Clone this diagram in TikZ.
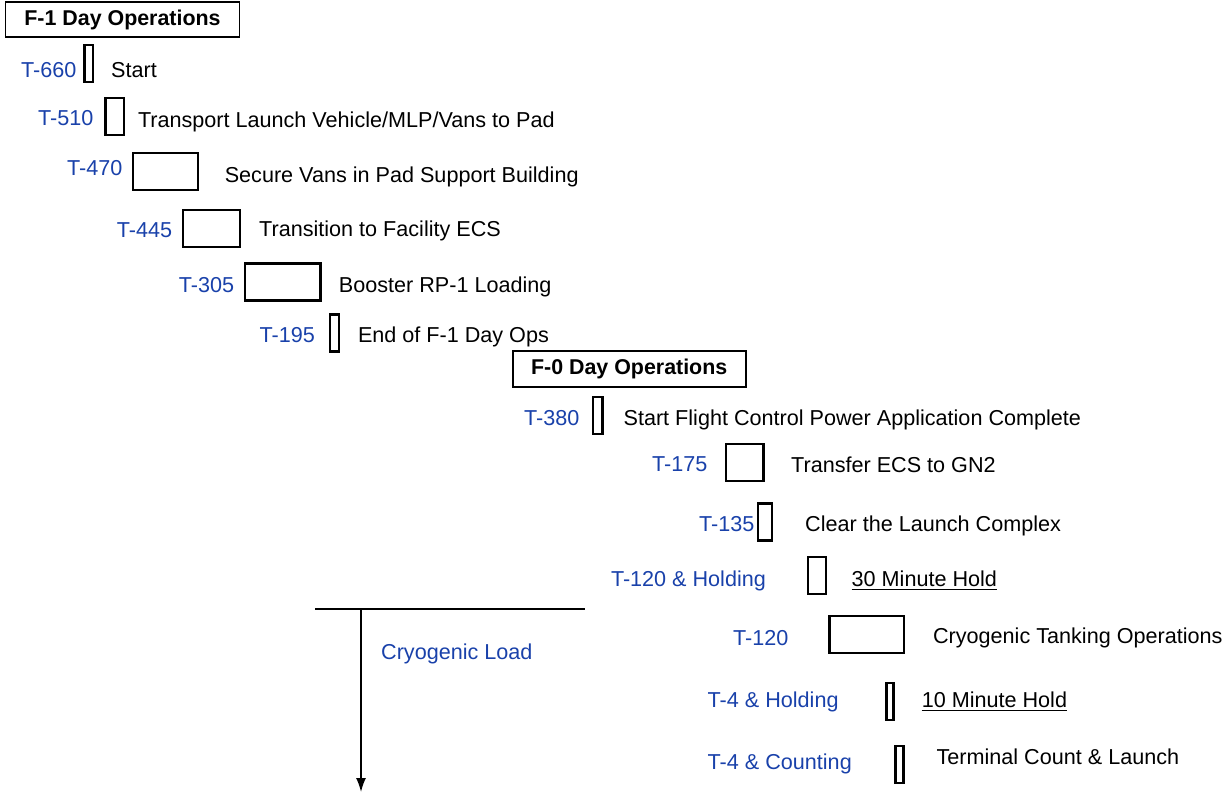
\documentclass[tikz,border=0pt]{standalone}
\usepackage{fontspec}
\setmainfont{Liberation Sans}
\usetikzlibrary{arrows.meta}
\definecolor{lblblue}{RGB}{25,65,170}
\begin{document}
\begin{tikzpicture}[x=1pt,y=-1pt,
  every node/.style={font=\fontsize{21.6}{25}\selectfont},
  txt/.style={anchor=west,inner sep=0pt,text height=15.4pt,text depth=0pt},
  lbl/.style={txt,text=lblblue},
  bar/.style={draw,line width=2.2pt,minimum height=37pt,inner sep=0pt},
  head/.style={draw,line width=1.6pt,inner sep=0pt,font=\fontsize{21.4}{25}\selectfont\bfseries},
  uline/.style={line width=1.4pt}
]
\useasboundingbox (0,0) rectangle (1230,795);
% headings
\node[head,minimum width=234pt,minimum height=35pt] (h1) at (122.5,19.7) {F-1 Day Operations};
\node[head,minimum width=233pt,minimum height=36pt] (h0) at (629.2,369.2) {F-0 Day Operations};
% bars
\node[bar,minimum width=8.7pt] (b660) at (88.75,63.7) {};
\node[bar,minimum width=18.6pt] (b510) at (114.8,116.2) {};
\node[bar,minimum width=65pt] (b470) at (165.5,171.3) {};
\node[bar,minimum width=57pt] (b445) at (211.5,228.5) {};
\node[bar,minimum width=75.5pt] (b305) at (282.75,281.9) {};
\node[bar,minimum width=9pt] (b195) at (334.5,332.9) {};
\node[bar,minimum width=9.2pt] (b380) at (597.8,415.4) {};
\node[bar,minimum width=37.5pt] (b175) at (744.7,462.5) {};
\node[bar,minimum width=14.3pt] (b135) at (765.2,522) {};
\node[bar,minimum width=18pt] (b120h) at (817.3,575.4) {};
\node[bar,minimum width=74.5pt] (b120) at (866.8,634.2) {};
\node[bar,minimum width=7pt] (b4h) at (889.9,701.5) {};
\node[bar,minimum width=8pt] (b4c) at (899.4,764.5) {};
% time labels
\node[lbl] (l660) at (21,70) {T-660};
\node[lbl] (l510) at (38,118) {T-510};
\node[lbl] (l470) at (67,168) {T-470};
\node[lbl] (l445) at (116.7,230) {T-445};
\node[lbl] (l305) at (178.7,285) {T-305};
\node[lbl] (l195) at (259.5,335) {T-195};
\node[lbl] (l380) at (524,418) {T-380};
\node[lbl] (l175) at (652,464) {T-175};
\node[lbl] (l135) at (699,524) {T-135};
\node[lbl] (l120h) at (610.8,579) {T-120 \& Holding};
\node[lbl] (l120) at (733,638) {T-120};
\node[lbl] (l4h) at (707.5,700) {T-4 \& Holding};
\node[lbl] (l4c) at (707.5,761.7) {T-4 \& Counting};
\node[lbl] (lcryo) at (381,652) {Cryogenic Load};
% event texts
\node[txt] (t660) at (111,70) {Start};
\node[txt] (t510) at (137.8,120) {Transport Launch Vehicle/MLP/Vans to Pad};
\node[txt] (t470) at (224.6,175) {Secure Vans in Pad Support Building};
\node[txt] (t445) at (259,229) {Transition to Facility ECS};
\node[txt] (t305) at (338.7,285) {Booster RP-1 Loading};
\node[txt] (t195) at (357.8,335) {End of F-1 Day Ops};
\node[txt] (t380) at (623.4,418) {Start Flight Control Power Application Complete};
\node[txt] (t175) at (791,465) {Transfer ECS to GN2};
\node[txt] (t135) at (805,524) {Clear the Launch Complex};
\node[txt] (t120h) at (851.5,579) {30 Minute Hold};
\node[txt] (t120) at (932.9,636) {Cryogenic Tanking Operations};
\node[txt] (t4h) at (921.6,700) {10 Minute Hold};
\node[txt] (t4c) at (936.4,756.7) {Terminal Count \& Launch};
% underlines
\draw[uline] ([yshift=-2.8pt]t120h.base west) -- ([yshift=-2.8pt]t120h.base east);
\draw[uline] ([yshift=-2.8pt]t4h.base west) -- ([yshift=-2.8pt]t4h.base east);
% cryogenic load bracket
\coordinate (lineL) at (315,609);
\coordinate (lineR) at (585,609);
\coordinate (arrTop) at (361,609);
\coordinate (arrEnd) at (361,792);
\draw[line width=2pt] (lineL) -- (lineR);
\draw[line width=1.6pt,-{Latex[length=14pt,width=10pt]}] (arrTop) -- (arrEnd);
\end{tikzpicture}
\end{document}
